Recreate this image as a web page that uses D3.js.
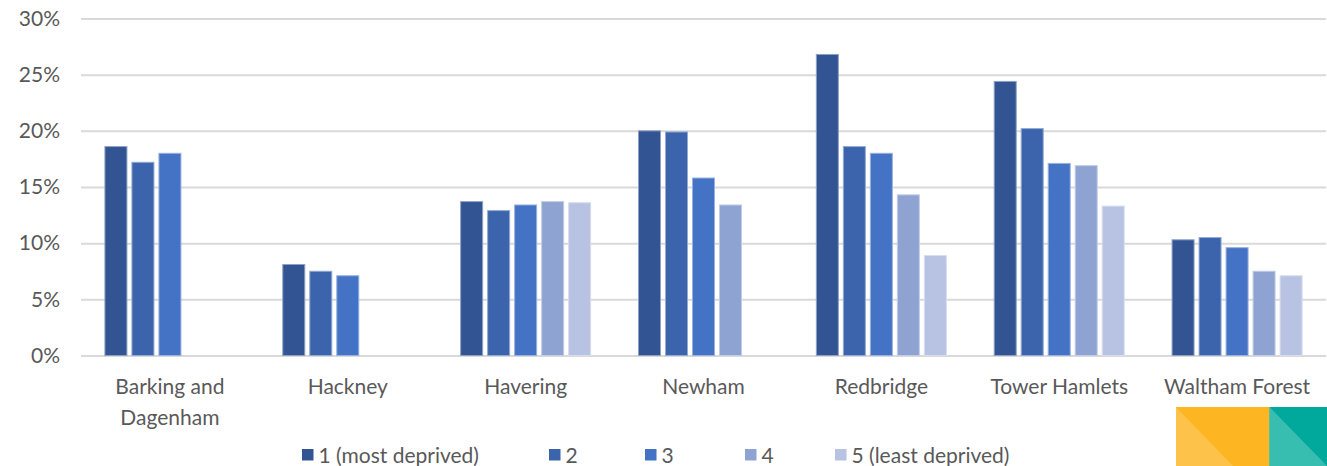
<!DOCTYPE html>
<html>
<head>
<meta charset="utf-8">
<script src="https://cdn.jsdelivr.net/npm/d3@7"></script>
<style>
  html, body { margin: 0; padding: 0; background: #ffffff; }
  svg { display: block; }
  text { font-family: Lato, "Open Sans", sans-serif; fill: #595959; }
</style>
</head>
<body>
<svg id="chart" width="1327" height="466"></svg>
<script>
// Boroughs along the x axis
const boroughs = ["Barking and Dagenham", "Hackney", "Havering", "Newham", "Redbridge", "Tower Hamlets", "Waltham Forest"];
// Deprivation quintile series names
const quintiles = ["1 (most deprived)", "2", "3", "4", "5 (least deprived)"];
// Percentages per quintile, one value per borough (null = no bar)
const q1 = [18.6, 8.1, 13.7, 20.0, 26.8, 24.4, 10.3];
const q2 = [17.2, 7.5, 12.9, 19.9, 18.6, 20.2, 10.5];
const q3 = [18.0, 7.1, 13.4, 15.8, 18.0, 17.1, 9.6];
const q4 = [null, null, 13.7, 13.4, 14.3, 16.9, 7.5];
const q5 = [null, null, 13.6, null, 8.9, 13.3, 7.1];
// Y axis ticks (percent)
const yTicks = [0, 5, 10, 15, 20, 25, 30];

const seriesValues = [q1, q2, q3, q4, q5];
const colors = ["#325493", "#3b64ad", "#4472c4", "#8fa3d3", "#b8c2e2"];
const fontSize = "21px";

const svg = d3.select("#chart");

const plotLeft = 81, plotRight = 1326, plotTop = 18.5, plotBottom = 355.5;

const y = d3.scaleLinear().domain([0, 30]).range([plotBottom, plotTop]);
const x0 = d3.scaleBand().domain(boroughs).range([plotLeft, plotRight]).padding(0);
const x1 = d3.scaleBand().domain(d3.range(quintiles.length))
  .range([0, x0.bandwidth()]).paddingInner(0.185).paddingOuter(0.886);

// Horizontal gridlines + tick labels
const yAxis = d3.axisLeft(y).tickValues(yTicks).tickSize(-(plotRight - plotLeft))
  .tickFormat(d => d + "%").tickPadding(21);
const gy = svg.append("g").attr("transform", `translate(${plotLeft},0)`).call(yAxis);
gy.select(".domain").remove();
gy.selectAll(".tick line").attr("stroke", "#d9d9d9").attr("stroke-width", 2);
gy.selectAll(".tick text").attr("font-size", fontSize).attr("fill", "#595959")
  .style("font-family", "Lato, 'Open Sans', sans-serif");

// Bars
const rows = [];
seriesValues.forEach((vals, si) => {
  vals.forEach((v, bi) => {
    if (v !== null) rows.push({ borough: boroughs[bi], s: si, v });
  });
});

svg.append("g").selectAll("rect").data(rows).join("rect")
  .attr("x", d => x0(d.borough) + x1(d.s))
  .attr("y", d => y(d.v))
  .attr("width", x1.bandwidth())
  .attr("height", d => y(0) - y(d.v))
  .attr("fill", d => colors[d.s])
  .attr("stroke", d => d3.interpolateRgb(colors[d.s], "#ffffff")(0.45))
  .attr("stroke-width", 1);

// Category labels (wrapped on "and")
const xAxis = d3.axisBottom(x0).tickSize(0).tickPadding(0);
const gx = svg.append("g").attr("transform", `translate(0,${plotBottom})`).call(xAxis);
gx.select(".domain").remove();
gx.selectAll(".tick text").each(function(d) {
  const t = d3.select(this);
  t.text(null).attr("y", 0).attr("dy", null)
    .attr("font-size", fontSize).attr("fill", "#595959")
    .style("font-family", "Lato, 'Open Sans', sans-serif");
  const lines = d === "Barking and Dagenham" ? ["Barking and", "Dagenham"] : [d];
  lines.forEach((ln, i) => {
    t.append("tspan").attr("x", 0).attr("y", 38 + i * 31).text(ln);
  });
});

// Legend
const legendX = [302, 549, 645, 745, 835];
const legend = svg.append("g");
quintiles.forEach((q, i) => {
  const g = legend.append("g").attr("transform", `translate(${legendX[i]},449)`);
  g.append("rect").attr("width", 11.5).attr("height", 11.5).attr("fill", colors[i]);
  g.append("text").attr("x", 16.5).attr("y", 14).attr("font-size", fontSize).text(q);
});

// Corner badge
const badge = svg.append("g");
badge.append("rect").attr("x", 1176).attr("y", 407).attr("width", 93.5).attr("height", 59).attr("fill", "#fdb522");
badge.append("path").attr("d", "M1176,407 L1233,466 L1176,466 Z").attr("fill", "#fdc24a");
badge.append("rect").attr("x", 1269.5).attr("y", 407).attr("width", 57.5).attr("height", 59).attr("fill", "#00a99b");
badge.append("path").attr("d", "M1269.5,407 L1327,466 L1269.5,466 Z").attr("fill", "#38bdb1");
</script>
</body>
</html>
